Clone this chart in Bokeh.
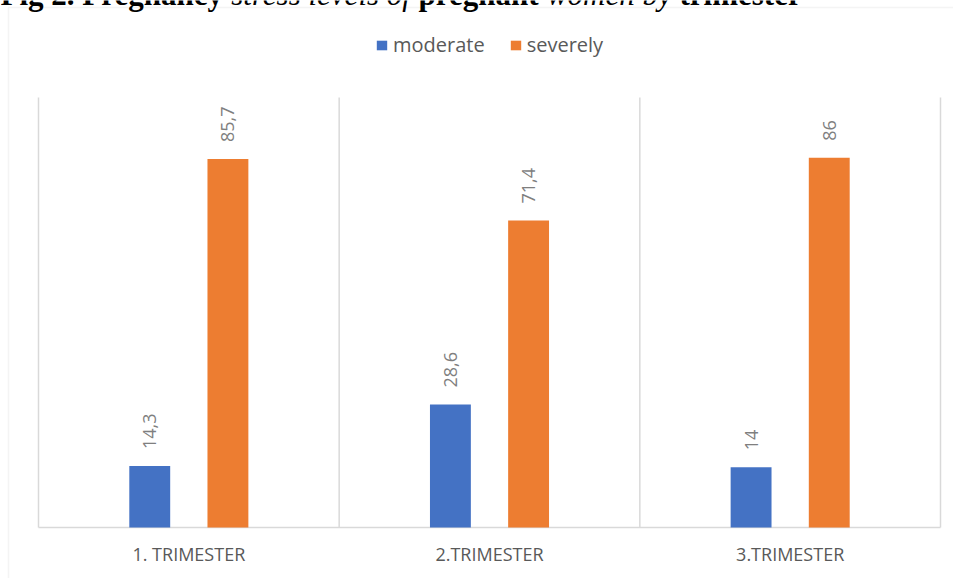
import math
from bokeh.plotting import figure
from bokeh.models import (ColumnDataSource, Range1d, Label, Legend, LegendItem,
                          BoxAnnotation)
from bokeh.core.properties import value
from bokeh.embed import file_html
from bokeh.resources import INLINE

# ---- data ----
categories = ["1. TRIMESTER", "2.TRIMESTER", "3.TRIMESTER"]
series_names = ["moderate", "severely"]
moderate = [14.3, 28.6, 14]
severely = [85.7, 71.4, 86]
title_parts = [("Fig 2. Pregnancy", "bold"), ("stress levels of", "italic"),
               ("pregnant", "bold"), ("women by", "italic"), ("trimester", "bold")]

BLUE = "#4472C4"
ORANGE = "#ED7D31"
GRID = "#D9D9D9"
TXT = "#595959"
FONT = "Open Sans"

W, H = 953, 578
PLOT_L, PLOT_R, PLOT_T, PLOT_B = 38, 940, 97, 527   # plot-area pixels
YMAX = 100
n = len(categories)
cat_px = (PLOT_R - PLOT_L) / n
px_per_unit = (PLOT_B - PLOT_T) / YMAX

def fmt(v):
    return f"{v:g}".replace(".", ",")

centers = [i + 0.5 for i in range(n)]
off = 0.13
bw = 0.136

src = ColumnDataSource(dict(
    cat=categories,
    xc=centers,
    xm=[c - off for c in centers],
    xs=[c + off for c in centers],
    moderate=moderate,
    severely=severely,
    mod_lbl=[fmt(v) for v in moderate],
    sev_lbl=[fmt(v) for v in severely],
    zero=[0] * n,
))

x_range = Range1d(-PLOT_L / cat_px, (W - PLOT_L) / cat_px)
y_range = Range1d(-(H - PLOT_B) / px_per_unit, PLOT_B / px_per_unit)

p = figure(width=W, height=H, x_range=x_range, y_range=y_range,
           output_backend="svg", toolbar_location=None,
           min_border=0, title=None, x_axis_location=None, y_axis_location=None)
p.outline_line_color = None
p.background_fill_color = "white"
p.border_fill_color = "white"
p.grid.visible = False

# outer chart border
p.add_layout(BoxAnnotation(left=8, right=2000, top=H - 7, bottom=-1000,
                           left_units="screen", right_units="screen",
                           top_units="screen", bottom_units="screen",
                           fill_alpha=0, line_color=GRID, line_width=1.5,
                           level="underlay"))

# category separators and base line
sep = list(range(n + 1))
p.segment(x0=sep, y0=[0] * len(sep), x1=sep, y1=[YMAX] * len(sep),
          line_color=GRID, line_width=1.5)
p.segment(x0=[0], y0=[0], x1=[n], y1=[0], line_color=GRID, line_width=1.5)

r1 = p.vbar(x="xm", top="moderate", width=bw, source=src,
            fill_color=BLUE, line_color=None)
r2 = p.vbar(x="xs", top="severely", width=bw, source=src,
            fill_color=ORANGE, line_color=None)

lbl_kw = dict(angle=math.pi / 2, text_align="left", text_baseline="middle",
              text_font=value(FONT), text_font_size="18px", text_color="#7F7F7F",
              y_offset=-17, source=src)
p.text(x="xm", y="moderate", text="mod_lbl", **lbl_kw)
p.text(x="xs", y="severely", text="sev_lbl", **lbl_kw)

# category labels
p.text(x="xc", y="zero", text="cat", source=src, text_align="center",
       text_baseline="middle", y_offset=26, text_font=value(FONT),
       text_font_size="18px", text_color=TXT)

legend = Legend(items=[LegendItem(label=series_names[0], renderers=[r1]),
                       LegendItem(label=series_names[1], renderers=[r2])],
                orientation="horizontal", location=(375, 520),
                label_text_font=FONT, label_text_font_size="20px",
                label_text_color=TXT, glyph_width=13, glyph_height=12,
                label_standoff=5, spacing=24, padding=0, margin=0,
                border_line_color=None, background_fill_alpha=0)
p.add_layout(legend, "center")

# clipped caption above the chart
TSIZE = 31
em_widths = [7.444, 6.043, 4.139, 4.277, 3.942]
xs = []
acc = 0.0
for w in em_widths:
    xs.append(acc)
    acc += w * TSIZE
for (txt, style), x0 in zip(title_parts, xs):
    p.add_layout(Label(x=x0, y=H + 6, x_units="screen", y_units="screen", text=txt,
                       text_font="Liberation Serif", text_font_size=f"{TSIZE}px",
                       text_font_style=style, text_color="black",
                       text_baseline="alphabetic", text_align="left"))

open("out.html", "w").write(file_html(p, INLINE))
